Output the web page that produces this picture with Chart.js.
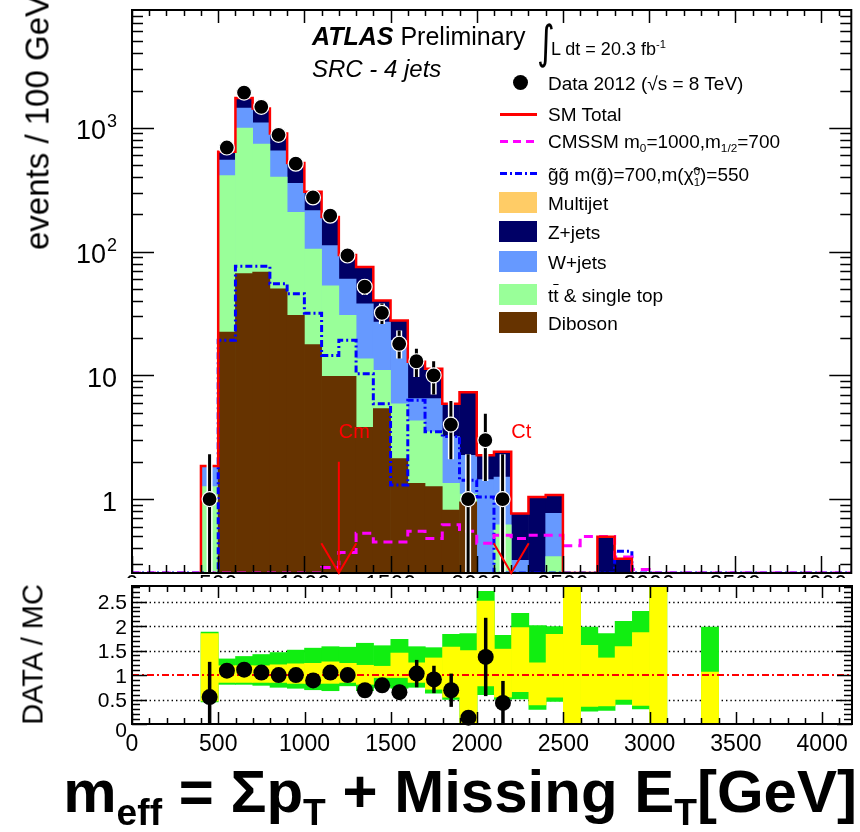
<!DOCTYPE html>
<html>
<head>
<meta charset="utf-8">
<title>m_eff SRC - 4 jets</title>
<script src="https://cdn.jsdelivr.net/npm/chart.js@4.4.1/dist/chart.umd.min.js"></script>
<style>
  html, body { margin: 0; padding: 0; background: #fff; }
  body { width: 860px; height: 832px; position: relative; overflow: hidden;
         font-family: "Liberation Sans", Arial, Helvetica, sans-serif; color: #000; }
  canvas { position: absolute; left: 0; }
  #mainCanvas { top: 0; }
  #ratioCanvas { top: 578px; background: #fff; }
  .lbl { position: absolute; white-space: nowrap; line-height: 1; }
  .leg { position: absolute; left: 548px; font-size: 19px; line-height: 1; white-space: nowrap; }
  .sw { position: absolute; left: 499px; width: 38px; height: 21px; }
  .ln { position: absolute; left: 500px; width: 37px; height: 3px; }
  .lo { font-size: 62%; position: relative; top: 0.35em; }
  .hi { font-size: 62%; position: relative; top: -0.6em; }
  .stk { display: inline-block; vertical-align: -0.4em; font-size: 60%; line-height: 0.95; }
  .stk span { display: block; }
  .vt { position: absolute; white-space: nowrap; line-height: 1; transform: rotate(-90deg); text-align: center; }
</style>
</head>
<body>
<canvas id="mainCanvas" width="860" height="600"></canvas>
<canvas id="ratioCanvas" width="860" height="190"></canvas>

<div class="lbl" style="left:312px;top:24px;font-size:25px;"><b><i>ATLAS</i></b> Preliminary</div>
<div class="lbl" style="left:312px;top:57px;font-size:24px;"><i>SRC - 4 jets</i></div>
<div class="lbl" style="left:537px;top:19px;font-size:34px;font-family:'DejaVu Sans';transform:scaleY(1.35);transform-origin:top left;">∫</div>
<div class="lbl" style="left:551px;top:40px;font-size:18px;">L dt = 20.3 fb<span class="hi">-1</span></div>

<div class="lbl" style="left:513px;top:75px;width:15px;height:15px;border-radius:50%;background:#000;"></div>
<div class="leg" style="top:74px;">Data 2012 (√s = 8 TeV)</div>
<div class="ln" style="top:113px;background:#ff0000;"></div>
<div class="leg" style="top:105px;">SM Total</div>
<div class="ln" style="top:140px;background:repeating-linear-gradient(90deg,#ff00ff 0 8px,transparent 8px 13px);"></div>
<div class="leg" style="top:132px;">CMSSM m<span class="lo">0</span>=1000,m<span class="lo">1/2</span>=700</div>
<div class="ln" style="top:172px;background:repeating-linear-gradient(90deg,#0000ff 0 7px,transparent 7px 10px,#0000ff 10px 12px,transparent 12px 15px);"></div>
<div class="leg" style="top:165px;">g̃g̃ m(g̃)=700,m(χ̃<span class="stk"><span>0</span><span>1</span></span>)=550</div>
<div class="sw" style="top:192px;background:#ffcc66;"></div>
<div class="leg" style="top:194px;">Multijet</div>
<div class="sw" style="top:221px;background:#000066;"></div>
<div class="leg" style="top:223px;">Z+jets</div>
<div class="sw" style="top:251px;background:#6699ff;"></div>
<div class="leg" style="top:253px;">W+jets</div>
<div class="sw" style="top:284px;background:#99ff99;"></div>
<div class="leg" style="top:286px;">t<span style="text-decoration:overline;">t</span> &amp; single top</div>
<div class="sw" style="top:312px;background:#663300;"></div>
<div class="leg" style="top:314px;">Diboson</div>

<div class="vt" style="left:-98px;top:106px;width:270px;font-size:33px;">events / 100 GeV</div>
<div class="vt" style="left:-67px;top:640px;width:200px;font-size:29px;">DATA / MC</div>
<div class="lbl" style="right:3px;top:762px;font-size:60px;font-weight:bold;">m<span class="lo">eff</span> = Σp<span class="lo">T</span> + Missing E<span class="lo">T</span>[GeV]</div>

<script>
// m_eff bins, 100 GeV wide, lower edges
const binLow = [400, 500, 600, 700, 800, 900, 1000, 1100, 1200, 1300, 1400, 1500, 1600, 1700, 1800,
  1900, 2000, 2100, 2200, 2300, 2400, 2500, 2600, 2700, 2800, 2900, 3000, 3100, 3200, 3300];
const binWidth = 100;

// SM backgrounds (events / 100 GeV), stacked bottom -> top
const dibosonVals = [0, 22.4, 66.4, 68.4, 50, 30.5, 17.7, 9.8, 9.8, 3.8, 5.4, 2.13, 1.34, 1.26, 0.815,
  0.95, 0, 0, 0, 0, 0, 0, 0, 0, 0, 0, 0, 0, 0, 0];
const ttbarVals = [1.26, 388, 929, 670, 350, 177, 87.3, 43.2, 20.7, 9.8, 5.6, 3.77, 2.96, 2.24, 0.525,
  0.15, 0, 0.62, 0, 0, 0.343, 0, 0, 0, 0, 0, 0, 0, 0, 0];
const wjetsVals = [0.59, 139, 447, 358, 253, 149, 109, 59, 29.5, 24.3, 15.9, 13.3, 2.2, 3.0, 1.86,
  1.16, 1.44, 0.89, 0.32, 0, 0.423, 0, 0, 0, 0, 0, 0, 0, 0, 0];
const zjetsVals = [0, 91, 301, 336, 247, 164, 91, 78, 34, 37.1, 13.4, 8.6, 6.4, 4.8, 2.7,
  5.04, 0.82, 0.9, 0.446, 1.04, 0.314, 0, 0, 0.497, 0.33, 0, 0, 0, 0, 0];
const multijetVals = [0, 0, 0, 0, 0, 0, 0, 0, 0, 0, 0, 0, 0, 0, 0,
  0, 0, 0, 0, 0, 0, 0, 0, 0, 0, 0, 0, 0, 0, 0];

// signal benchmarks
const cmssmVals = [0, 0, 0, 0, 0, 0, 0, 0.28, 0.37, 0.53, 0.45, 0.45, 0.55, 0.48, 0.62,
  0.55, 0.44, 0.51, 0.48, 0.51, 0.51, 0.42, 0.50, 0.50, 0.34, 0.27, 0, 0, 0, 0];
const gluinoVals = [0, 19.2, 76, 76, 55, 45.6, 31.8, 14.5, 19.2, 10.3, 5.9, 1.3, 6.3, 3.5, 3.2,
  1.42, 1.04, 0, 0, 0, 0, 0, 0, 0, 0.38, 0, 0, 0, 0, 0];

// data 2012
const dataCounts = [1, 693, 1927, 1477, 877, 513, 274, 195, 93, 52, 32, 18, 13, 10, 4,
  1, 3, 1, 0, 0, 0, 0, 0, 0, 0, 0, 0, 0, 0, 0];
const dataErrUp = [1.3, 26, 44, 38, 30, 23, 17, 14, 10, 7.5, 6, 5, 3.4, 3, 2.2,
  1.3, 1.9, 1.3, 0, 0, 0, 0, 0, 0, 0, 0, 0, 0, 0, 0];
const dataErrDown = [1, 26, 44, 38, 30, 23, 17, 14, 10, 7.5, 6, 4.3, 3.3, 3, 1.9,
  1, 1.6, 1, 0, 0, 0, 0, 0, 0, 0, 0, 0, 0, 0, 0];

// DATA / MC
const ratioVals = [0.55, 1.09, 1.11, 1.05, 1.0, 1.0, 0.89, 1.05, 1.0, 0.69, 0.79, 0.65, 1.03, 0.91, 0.69,
  0.13, 1.37, 0.43, null, null, null, null, null, null, null, null, null, null, null, null];
const ratioErr = [0.72, 0.04, 0.03, 0.03, 0.04, 0.05, 0.06, 0.08, 0.1, 0.1, 0.14, 0.15, 0.28, 0.28, 0.34,
  0.14, 0.8, 0.45, null, null, null, null, null, null, null, null, null, null, null, null];
const outerBandLo = [0.45, 0.81, 0.81, 0.79, 0.75, 0.73, 0.70, 0.68, 0.78, 0.68, 0.75, 0.73, 0.75, 0.63, 0.50,
  0, 0.60, 0.50, 0.51, 0.30, 0.46, 0, 0.26, 0.28, 0.40, 0.31, 0, null, null, 0];
const outerBandHi = [1.88, 1.33, 1.38, 1.42, 1.46, 1.51, 1.55, 1.58, 1.57, 1.65, 1.60, 1.73, 1.58, 1.56, 1.83,
  1.85, 2.71, 1.81, 2.26, 2.01, 1.99, 2.9, 1.98, 1.85, 2.10, 2.30, 2.9, null, null, 1.98];
const innerBandLo = [0.47, 0.85, 0.85, 0.85, 0.85, 0.83, 0.83, 0.83, 0.85, 0.81, 0.95, 0.95, 0.85, 0.71, 0.55,
  0, 0.78, 0.55, 0.66, 0.39, 0.55, 0, 0.36, 0.37, 0.50, 0.38, 0, null, null, 0];
const innerBandHi = [1.85, 1.19, 1.19, 1.19, 1.21, 1.23, 1.24, 1.27, 1.24, 1.20, 1.18, 1.45, 1.25, 1.35, 1.57,
  1.50, 2.51, 1.53, 1.97, 1.25, 1.83, 2.9, 1.61, 1.35, 1.58, 1.87, 2.9, null, null, 1.06];

// axes
const xTickValues = [0, 500, 1000, 1500, 2000, 2500, 3000, 3500, 4000];
const xTickLabels = ['0', '500', '1000', '1500', '2000', '2500', '3000', '3500', '4000'];
const mainYTickValues = [1, 10, 100, 1000];
const mainYTickLabels = [['1', ''], ['10', ''], ['10', '2'], ['10', '3']];
const ratioYTickValues = [0, 0.5, 1, 1.5, 2, 2.5];
const ratioYTickLabels = ['0', '0.5', '1', '1.5', '2', '2.5'];

// signal region cuts: name, m_eff cut, whether the shaft is visible
const cutArrows = [
  { name: 'Cm', at: 1200, shaft: true },
  { name: 'Ct', at: 2200, shaft: false }
];

const X_MIN = 0, X_MAX = 4173;
const Y_MIN = 0.253, Y_MAX = 8950;
const R_MIN = 0, R_MAX = 2.82;

const centers = binLow.map(lo => lo + binWidth / 2);

function cumulate(...lists) {
  return binLow.map((_, i) => lists.reduce((s, l) => s + l[i], 0));
}
const cumDib = cumulate(dibosonVals);
const cumTop = cumulate(dibosonVals, ttbarVals);
const cumW = cumulate(dibosonVals, ttbarVals, wjetsVals);
const cumZ = cumulate(dibosonVals, ttbarVals, wjetsVals, zjetsVals);
const cumAll = cumulate(dibosonVals, ttbarVals, wjetsVals, zjetsVals, multijetVals);

function barSet(label, own, cum, color, order) {
  return {
    type: 'bar', label, order, backgroundColor: color, borderWidth: 0,
    grouped: false, barPercentage: 1, categoryPercentage: 1,
    data: centers.map((c, i) => ({ x: c, y: own[i] > 0 ? cum[i] : null }))
  };
}

// histogram outline; empty bins lie on the axis floor
function stepPoints(vals, from, to) {
  const pts = [{ x: from, y: Y_MIN }];
  binLow.forEach((lo, i) => {
    if (lo < from || lo >= to) return;
    const v = Math.max(vals[i], Y_MIN);
    pts.push({ x: lo, y: v }, { x: lo + binWidth, y: v });
  });
  pts.push({ x: to, y: Y_MIN });
  return pts;
}

const dataPts = [], dataUp = [], dataDn = [];
centers.forEach((c, i) => {
  if (dataCounts[i] > 0) {
    dataPts.push({ x: c, y: dataCounts[i] });
    dataUp.push(dataErrUp[i]);
    dataDn.push(dataErrDown[i]);
  }
});

const ratioPts = [], ratioUp = [];
centers.forEach((c, i) => {
  if (ratioVals[i] !== null) { ratioPts.push({ x: c, y: ratioVals[i] }); ratioUp.push(ratioErr[i]); }
});

function bandSet(lo, hi, color, order) {
  const pts = [];
  centers.forEach((c, i) => { if (lo[i] !== null) pts.push({ x: c, y: [lo[i], hi[i]] }); });
  return { type: 'bar', data: pts, backgroundColor: color, borderWidth: 0, grouped: false,
    barPercentage: 1, categoryPercentage: 1, order };
}

// data error bars, drawn just before the markers
const errorBars = {
  id: 'errorBars',
  beforeDatasetDraw(chart, args) {
    const ds = chart.data.datasets[args.index];
    if (!ds.errUp) return;
    const { ctx, chartArea: a } = chart;
    const x = chart.scales.x, y = chart.scales.y;
    ctx.save();
    ctx.beginPath();
    ctx.rect(a.left, a.top, a.right - a.left, a.bottom - a.top);
    ctx.clip();
    ds.data.forEach((p, i) => {
      const px = x.getPixelForValue(p.x);
      const top = y.getPixelForValue(p.y + ds.errUp[i]);
      const low = p.y - ds.errDown[i];
      const bot = (y.type === 'logarithmic' && low <= y.min) ? a.bottom : y.getPixelForValue(low);
      const passes = ds.halo ? [['#fff', 6], ['#000', 3]] : [['#000', 3.5]];
      passes.forEach(([col, w]) => {
        ctx.strokeStyle = col; ctx.lineWidth = w;
        ctx.beginPath(); ctx.moveTo(px, top); ctx.lineTo(px, bot); ctx.stroke();
      });
    });
    ctx.restore();
  }
};

// ROOT style frame with inward ticks and labels
function makeFrame(cfg) {
  return {
    id: 'rootFrame',
    beforeDatasetsDraw(chart) {
      if (!cfg.gridValues) return;
      const { ctx, chartArea: a } = chart;
      const y = chart.scales.y;
      ctx.save();
      ctx.strokeStyle = '#000'; ctx.lineWidth = 1.4; ctx.setLineDash([1.4, 3]);
      cfg.gridValues.forEach(v => {
        const py = Math.round(y.getPixelForValue(v)) + 0.5;
        ctx.beginPath(); ctx.moveTo(a.left, py); ctx.lineTo(a.right, py); ctx.stroke();
      });
      ctx.restore();
    },
    afterDatasetsDraw(chart) {
      const { ctx, chartArea: a } = chart;
      const x = chart.scales.x, y = chart.scales.y;
      ctx.save();
      ctx.strokeStyle = '#000'; ctx.lineWidth = 1.5;
      ctx.beginPath();
      for (let v = X_MIN; v <= X_MAX; v += 100) {
        const px = Math.round(x.getPixelForValue(v)) + 0.5;
        const major = v % 500 === 0;
        ctx.moveTo(px, a.bottom); ctx.lineTo(px, a.bottom - (major ? cfg.xBot[0] : cfg.xBot[1]));
        ctx.moveTo(px, a.top); ctx.lineTo(px, a.top + (major ? cfg.xTop[0] : cfg.xTop[1]));
      }
      cfg.yTicks.forEach(([v, major]) => {
        const py = Math.round(y.getPixelForValue(v)) + 0.5;
        const len = major ? cfg.yLen[0] : cfg.yLen[1];
        ctx.moveTo(a.left, py); ctx.lineTo(a.left + len, py);
        ctx.moveTo(a.right, py); ctx.lineTo(a.right - len, py);
      });
      ctx.stroke();
      ctx.lineWidth = 2;
      ctx.strokeRect(a.left, a.top, a.right - a.left, a.bottom - a.top);

      ctx.fillStyle = '#000';
      ctx.textBaseline = 'middle';
      ctx.textAlign = 'center';
      ctx.font = cfg.xFont;
      xTickValues.forEach((v, i) => ctx.fillText(xTickLabels[i], x.getPixelForValue(v), a.bottom + cfg.xLabelGap));
      cfg.drawYLabels(ctx, y);
      ctx.restore();
    }
  };
}

const cutMarks = {
  id: 'cutMarks',
  afterDatasetsDraw(chart) {
    const { ctx } = chart;
    const x = chart.scales.x, y = chart.scales.y;
    ctx.save();
    ctx.strokeStyle = '#ff0000'; ctx.fillStyle = '#ff0000'; ctx.lineWidth = 2;
    ctx.font = '20px "Liberation Sans", Arial, sans-serif';
    ctx.textAlign = 'left'; ctx.textBaseline = 'alphabetic';
    cutArrows.forEach(c => {
      const px = x.getPixelForValue(c.at);
      const tip = y.getPixelForValue(Y_MIN);
      const head = y.getPixelForValue(0.44);
      ctx.beginPath();
      if (c.shaft) { ctx.moveTo(px, y.getPixelForValue(2.0)); ctx.lineTo(px, tip); }
      ctx.moveTo(px - 17.5, head); ctx.lineTo(px, tip); ctx.lineTo(px + 17.5, head);
      ctx.stroke();
      ctx.fillText(c.name, px, y.getPixelForValue(3.1));
    });
    ctx.restore();
  }
};

// log-axis tick list: decades major, 2..9 minor
const mainYTicks = [];
for (let k = -1; k <= 3; k++) {
  for (let d = 1; d <= 9; d++) {
    const v = d * Math.pow(10, k);
    if (v >= Y_MIN && v <= Y_MAX) mainYTicks.push([v, d === 1]);
  }
}
const ratioYTicks = [];
for (let i = 0; i <= 28; i++) ratioYTicks.push([i / 10, i % 5 === 0]);

const mainFrame = makeFrame({
  xBot: [17, 8], xTop: [13, 6], yLen: [22, 11], yTicks: mainYTicks,
  xFont: '23px "Liberation Sans", Arial, sans-serif', xLabelGap: 13,
  drawYLabels(ctx, y) {
    mainYTickValues.forEach((v, i) => {
      const [base, exp] = mainYTickLabels[i];
      const py = y.getPixelForValue(v);
      ctx.font = '18px "Liberation Sans", Arial, sans-serif';
      const we = exp ? ctx.measureText(exp).width : 0;
      ctx.textAlign = 'right';
      if (exp) ctx.fillText(exp, 117, py - 6);
      ctx.font = '27px "Liberation Sans", Arial, sans-serif';
      ctx.fillText(base, 117 - we - (exp ? 1 : 0), py + 4);
    });
  }
});

const ratioFrame = makeFrame({
  xBot: [12, 6], xTop: [12, 6], yLen: [15, 8], yTicks: ratioYTicks,
  gridValues: [0.5, 1.5, 2, 2.5],
  xFont: '23px "Liberation Sans", Arial, sans-serif', xLabelGap: 21,
  drawYLabels(ctx, y) {
    ctx.font = '21px "Liberation Sans", Arial, sans-serif';
    ctx.textAlign = 'right';
    ratioYTickValues.forEach((v, i) => {
      const py = y.getPixelForValue(v);
      ctx.fillText(ratioYTickLabels[i], 127, py + (v === 0 ? 7 : 2));
    });
  }
});

const baseOptions = {
  responsive: false,
  animation: false,
  events: [],
  plugins: { legend: { display: false }, tooltip: { enabled: false } }
};

new Chart(document.getElementById('mainCanvas'), {
  type: 'bar',
  data: {
    datasets: [
      { type: 'line', label: 'Data 2012', data: dataPts, showLine: false, order: 0, clip: false,
        pointRadius: 7.5, pointBackgroundColor: '#000', pointBorderColor: '#fff', pointBorderWidth: 1.2,
        errUp: dataUp, errDown: dataDn, halo: true },
      { type: 'line', label: 'SM Total', data: stepPoints(cumAll, 400, 2900), order: 1,
        borderColor: '#ff0000', borderWidth: 2.5, pointRadius: 0, tension: 0, fill: false },
      { type: 'line', label: 'CMSSM', data: stepPoints(cmssmVals, X_MIN, X_MAX), order: 2,
        borderColor: '#ff00ff', borderWidth: 3, borderDash: [9, 6], pointRadius: 0, tension: 0, fill: false },
      { type: 'line', label: 'gluino', data: stepPoints(gluinoVals, X_MIN, X_MAX), order: 3,
        borderColor: '#0000ff', borderWidth: 3, borderDash: [7, 3, 2, 3], pointRadius: 0, tension: 0, fill: false },
      barSet('Diboson', dibosonVals, cumDib, '#663300', 4),
      barSet('ttbar & single top', ttbarVals, cumTop, '#99ff99', 5),
      barSet('W+jets', wjetsVals, cumW, '#6699ff', 6),
      barSet('Z+jets', zjetsVals, cumZ, '#000066', 7),
      barSet('Multijet', multijetVals, cumAll, '#ffcc66', 8)
    ]
  },
  options: Object.assign({}, baseOptions, {
    layout: { padding: { left: 132, right: 3, top: 10, bottom: 27 } },
    scales: {
      x: { type: 'linear', min: X_MIN, max: X_MAX, offset: false, display: false },
      y: { type: 'logarithmic', min: Y_MIN, max: Y_MAX, display: false }
    }
  }),
  plugins: [errorBars, mainFrame, cutMarks]
});

new Chart(document.getElementById('ratioCanvas'), {
  type: 'bar',
  data: {
    datasets: [
      { type: 'line', label: 'DATA / MC', data: ratioPts, showLine: false, order: 0, clip: false,
        pointRadius: 8, pointBackgroundColor: '#000', pointBorderColor: '#000', pointBorderWidth: 0,
        errUp: ratioUp, errDown: ratioUp, halo: false },
      { type: 'line', data: [{ x: X_MIN, y: 1 }, { x: X_MAX, y: 1 }], order: 1,
        borderColor: '#ff0000', borderWidth: 2, borderDash: [7, 3, 2, 3], pointRadius: 0, fill: false },
      bandSet(innerBandLo, innerBandHi, '#ffff00', 2),
      bandSet(outerBandLo, outerBandHi, '#11ee11', 3)
    ]
  },
  options: Object.assign({}, baseOptions, {
    layout: { padding: { left: 132, right: 3, top: 5, bottom: 44 } },
    scales: {
      x: { type: 'linear', min: X_MIN, max: X_MAX, offset: false, display: false },
      y: { type: 'linear', min: R_MIN, max: R_MAX, display: false }
    }
  }),
  plugins: [errorBars, ratioFrame]
});
</script>
</body>
</html>
